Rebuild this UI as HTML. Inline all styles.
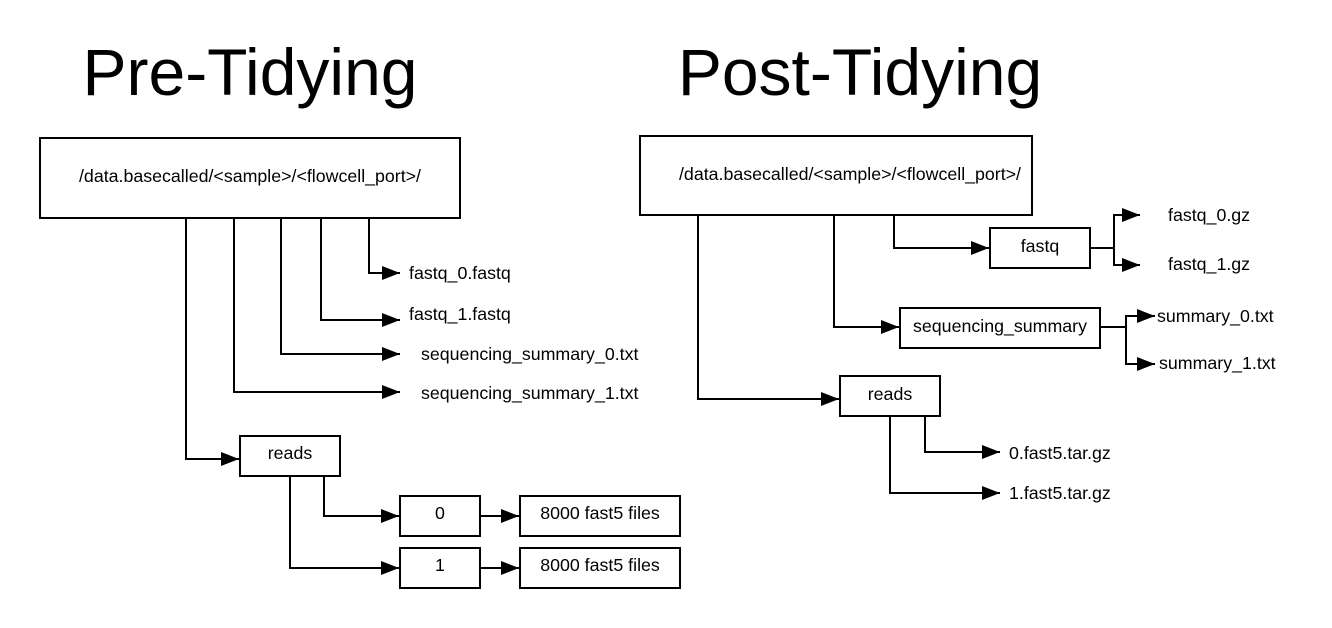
<!DOCTYPE html>
<html><head><style>
html,body{margin:0;padding:0;background:#fff;}
svg{display:block;}
text{font-family:"Liberation Sans",sans-serif;fill:#000;}
</style></head><body>
<svg width="1332" height="628" viewBox="0 0 1332 628" xmlns="http://www.w3.org/2000/svg">
<defs>
<marker id="a" markerUnits="userSpaceOnUse" markerWidth="20" markerHeight="14" refX="18" refY="7" orient="auto">
<path d="M0,0 L18,7 L0,14 Z" fill="#000"/>
</marker>
</defs>
<text x="250" y="95" font-size="66" text-anchor="middle">Pre-Tidying</text>
<text x="860" y="95" font-size="66" text-anchor="middle">Post-Tidying</text>
<g fill="none" stroke="#000" stroke-width="2">
<rect x="40" y="138" width="420" height="80"/>
<rect x="240" y="436" width="100" height="40"/>
<rect x="400" y="496" width="80" height="40"/>
<rect x="400" y="548" width="80" height="40"/>
<rect x="520" y="496" width="160" height="40"/>
<rect x="520" y="548" width="160" height="40"/>
<polyline points="369,218 369,273 400,273" marker-end="url(#a)"/>
<polyline points="321,218 321,320 400,320" marker-end="url(#a)"/>
<polyline points="281,218 281,354 400,354" marker-end="url(#a)"/>
<polyline points="234,218 234,392 400,392" marker-end="url(#a)"/>
<polyline points="186,218 186,459 239,459" marker-end="url(#a)"/>
<polyline points="324,476 324,516 399,516" marker-end="url(#a)"/>
<polyline points="290,476 290,568 399,568" marker-end="url(#a)"/>
<polyline points="480,516 519,516" marker-end="url(#a)"/>
<polyline points="480,568 519,568" marker-end="url(#a)"/>

<rect x="640" y="136" width="392" height="79"/>
<rect x="990" y="228" width="100" height="40"/>
<rect x="900" y="308" width="200" height="40"/>
<rect x="840" y="376" width="100" height="40"/>
<polyline points="894,215 894,248 989,248" marker-end="url(#a)"/>
<polyline points="1090,248 1114,248"/>
<polyline points="1114,248 1114,215 1140,215" marker-end="url(#a)"/>
<polyline points="1114,248 1114,265 1140,265" marker-end="url(#a)"/>
<polyline points="834,215 834,327 899,327" marker-end="url(#a)"/>
<polyline points="1100,327 1126,327"/>
<polyline points="1126,327 1126,316 1155,316" marker-end="url(#a)"/>
<polyline points="1126,327 1126,364 1155,364" marker-end="url(#a)"/>
<polyline points="698,215 698,399 839,399" marker-end="url(#a)"/>
<polyline points="925,416 925,452 1000,452" marker-end="url(#a)"/>
<polyline points="890,416 890,493 1000,493" marker-end="url(#a)"/>
</g>
<g font-size="17.8">
<text x="250" y="182" text-anchor="middle">/data.basecalled/&lt;sample&gt;/&lt;flowcell_port&gt;/</text>
<text x="409" y="279">fastq_0.fastq</text>
<text x="409" y="320">fastq_1.fastq</text>
<text x="421" y="360">sequencing_summary_0.txt</text>
<text x="421" y="399">sequencing_summary_1.txt</text>
<text x="290" y="459" text-anchor="middle">reads</text>
<text x="440" y="519" text-anchor="middle">0</text>
<text x="440" y="571" text-anchor="middle">1</text>
<text x="600" y="519" text-anchor="middle">8000 fast5 files</text>
<text x="600" y="571" text-anchor="middle">8000 fast5 files</text>

<text x="850" y="180" text-anchor="middle">/data.basecalled/&lt;sample&gt;/&lt;flowcell_port&gt;/</text>
<text x="1040" y="252" text-anchor="middle">fastq</text>
<text x="1168" y="221">fastq_0.gz</text>
<text x="1168" y="270">fastq_1.gz</text>
<text x="1000" y="332" text-anchor="middle">sequencing_summary</text>
<text x="1157" y="322">summary_0.txt</text>
<text x="1159" y="369">summary_1.txt</text>
<text x="890" y="400" text-anchor="middle">reads</text>
<text x="1009" y="459">0.fast5.tar.gz</text>
<text x="1009" y="499">1.fast5.tar.gz</text>
</g>
</svg>
</body></html>
